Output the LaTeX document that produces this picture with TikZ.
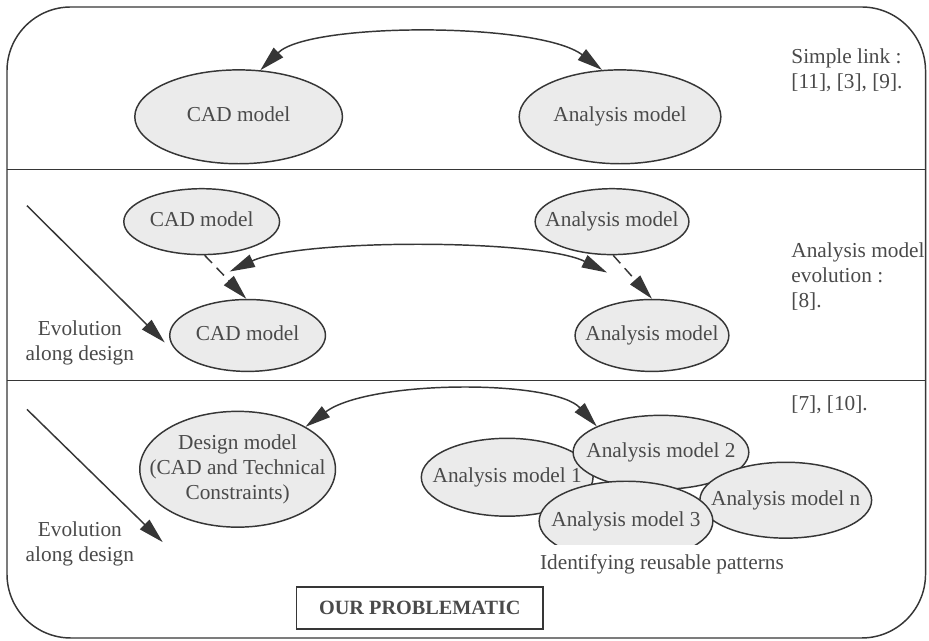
\documentclass[tikz,border=0pt]{standalone}
\usepackage{fontspec}
\setmainfont{Liberation Serif}
\usetikzlibrary{arrows.meta,shapes.geometric}
\definecolor{ink}{HTML}{363636}
\definecolor{txt}{HTML}{4A4A4A}
\definecolor{shade}{HTML}{EBEBEB}
% text inside an oval: a zero-width box, so that the oval keeps its given size
\newcommand{\ovaltext}[1]{\makebox[0pt]{\begin{tabular}{@{}c@{}}#1\end{tabular}}}

\begin{document}
\begin{tikzpicture}[x=0.75pt,y=-0.75pt,
  font=\fontsize{16pt}{18.75pt}\selectfont,
  every node/.style={text=txt},
  model/.style={ellipse, draw=ink, fill=shade, line width=1.1pt, inner sep=0pt},
  frame/.style={draw=ink, line width=1.1pt},
  link/.style={draw=ink, line width=1.1pt,
    {Triangle[length=19pt,width=10pt]}-{Triangle[length=19pt,width=10pt]}},
  evol/.style={draw=ink, line width=1.1pt, -{Triangle[length=19pt,width=10pt]}},
  evodash/.style={evol, dash pattern=on 8pt off 5pt},
  note/.style={anchor=west, align=left}
]
% page and outer frame with the three bands
\fill[white] (0,0) rectangle (929,642);
\draw[frame, rounded corners=48pt] (7,7) rectangle (927,639);
\draw[frame] (7,170) -- (927,170);
\draw[frame] (7,381) -- (927,381);

% ---- band 1: simple link
\node[model, minimum width=156pt, minimum height=70.5pt] (cadA) at (239,117) {\ovaltext{CAD model}};
\node[model, minimum width=151.5pt, minimum height=70.5pt] (anaA) at (621,117) {\ovaltext{Analysis model}};
\draw[link] (cadA.65) .. controls (310,22) and (540,22) .. (anaA.111);
\node[note] (refA) at (788,70) {Simple link :\\{}[11], [3], [9].};

% ---- band 2: analysis model evolution
\node[model, minimum width=117pt, minimum height=49.5pt] (cadB1) at (202,222) {\ovaltext{CAD model}};
\node[model, minimum width=115.5pt, minimum height=49.5pt] (anaB1) at (613,222) {\ovaltext{Analysis model}};
\node[model, minimum width=117pt, minimum height=54pt] (cadB2) at (248,336) {\ovaltext{CAD model}};
\node[model, minimum width=115.5pt, minimum height=54pt] (anaB2) at (653,336) {\ovaltext{Analysis model}};
\draw[evodash] (cadB1.-85) -- (cadB2.92);
\draw[evodash] (anaB1.-88) -- (anaB2.90);
\coordinate (cadHit) at (230,272);
\coordinate (anaHit) at (608,273);
\draw[link] (cadHit) .. controls (300,239) and (540,239) .. (anaHit);
\coordinate (evA0) at (27,206);
\coordinate (evA1) at (165,343);
\draw[evol] (evA0) -- (evA1);
\node[align=center] (evoA) at (80,343) {Evolution\\along design};
\node[note] (refB) at (788,277) {Analysis model\\evolution :\\{}[8].};

% ---- band 3: design model and several analysis models
\node[model, minimum width=147pt, minimum height=87pt] (design) at (238,470)
  {\ovaltext{Design model\\(CAD and Technical\\Constraints)}};
\node[model, minimum width=129pt, minimum height=58.5pt] (am1) at (508,478) {\ovaltext{Analysis model 1}};
\node[model, minimum width=132pt, minimum height=55.5pt] (am2) at (662,453) {\ovaltext{Analysis model 2}};
\node[model, minimum width=129pt, minimum height=57pt] (amn) at (787,501) {\ovaltext{Analysis model n}};
\begin{scope}
  \clip (520,470) rectangle (760,545);
  \node[model, minimum width=130.5pt, minimum height=60pt] (am3) at (627,522) {\ovaltext{Analysis model 3}};
\end{scope}
\draw[link] (design.32) .. controls (370,380) and (555,380) .. (am2.158);
\coordinate (evB0) at (27,410);
\coordinate (evB1) at (163,543);
\draw[evol] (evB0) -- (evB1);
\node[align=center] (evoB) at (80,545) {Evolution\\along design};
\node[note] (refC) at (788,405) {[7], [10].};
\node (reuse) at (663,565) {Identifying reusable patterns};

\node[draw=ink, line width=1.1pt, minimum width=185pt, minimum height=31.5pt,
  font=\fontsize{15.2pt}{18pt}\selectfont\bfseries] (ours) at (420.5,609) {OUR PROBLEMATIC};
\end{tikzpicture}
\end{document}
